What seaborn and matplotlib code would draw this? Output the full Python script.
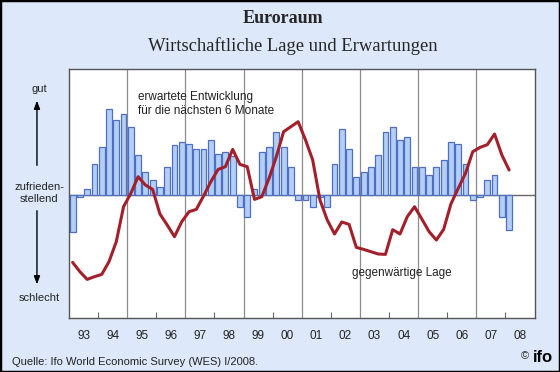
import numpy as np
import pandas as pd
import seaborn as sns
import matplotlib.pyplot as plt
from matplotlib.patches import Rectangle

# Quartale 1993Q1 bis 2008Q1
quartale = [f"{j}Q{q}" for j in range(1993, 2009) for q in range(1, 5)][:61]

# erwartete Entwicklung fuer die naechsten 6 Monate (Balken)
erwartung = [-37.7, -2.3, 5.3, 30.3,
             47.3, 85.3, 74.7, 80.3,
             67.3, 40.0, 23.0, 14.7,
             7.3, 27.3, 50.0, 52.7,
             50.3, 45.3, 45.3, 54.7,
             40.3, 42.3, 38.7, -12.3,
             -22.3, 5.3, 42.3, 47.3,
             62.3, 47.3, 27.3, -5.3,
             -5.3, -12.7, -2.7, -12.7,
             30.3, 65.3, 45.3, 18.0,
             23.0, 27.3, 40.0, 62.3,
             67.3, 54.7, 58.0, 27.3,
             27.3, 20.0, 27.3, 35.0,
             52.7, 50.3, 30.3, -5.3,
             -2.7, 14.7, 20.0, -22.7,
             -35.0]

# gegenwaertige Lage (Linie)
lage = [-67.7, -77.0, -84.7, -82.0,
        -79.7, -67.0, -47.0, -12.0,
        1.3, 18.0, 9.7, 5.3,
        -19.3, -30.3, -42.0, -27.0,
        -17.0, -14.7, -1.3, 13.0,
        25.3, 28.0, 45.3, 30.3,
        28.0, -4.7, -2.0, 16.3,
        38.0, 63.0, 68.0, 73.0,
        55.0, 34.7, -5.3, -25.3,
        -39.3, -27.3, -29.7, -52.7,
        -54.7, -57.0, -59.3, -59.7,
        -35.0, -39.3, -22.0, -12.0,
        -24.3, -37.0, -45.3, -34.7,
        -9.3, 6.3, 21.3, 43.0,
        47.3, 50.0, 60.7, 39.7,
        24.7]

jahre = ["93", "94", "95", "96", "97", "98", "99", "00",
         "01", "02", "03", "04", "05", "06", "07", "08"]

df = pd.DataFrame({"quartal": quartale, "erwartung": erwartung, "lage": lage})
df["pos"] = range(len(df))

sns.set_theme(style="white")
plt.rcParams['font.family'] = ['Liberation Sans', 'DejaVu Sans']

bg = "#dde9fa"
fig = plt.figure(figsize=(5.6, 3.72), dpi=100, facecolor=bg)
ax = fig.add_axes([0.1232, 0.1452, 0.8314, 0.6693])
ax.set_facecolor("white")

# Gitterlinien an ungeraden Jahren
for k in range(2, 16, 2):
    ax.axvline(4 * k - 0.5, color="#8c8c8c", lw=0.9, zorder=0)
ax.axhline(0, color="#666666", lw=1.0, zorder=1)

sns.barplot(data=df, x="pos", y="erwartung", native_scale=True, width=0.8,
            color="#b4cff6", edgecolor="#4f6fc4", linewidth=0.9,
            saturation=1, errorbar=None, ax=ax, zorder=2)
sns.lineplot(data=df, x="pos", y="lage", color="#a3202b", linewidth=2.2,
             ax=ax, zorder=3)

ax.set_xlim(-0.5, 63.5)
ax.set_ylim(-123.3, 125.7)
ax.set_xlabel("")
ax.set_ylabel("")
ax.set_yticks([])

# kleine Striche an geraden Jahren, Jahreszahlen in der Mitte
ax.set_xticks([4 * k - 0.5 for k in range(1, 16, 2)])
ax.set_xticklabels([])
ax.tick_params(axis="x", which="major", direction="in", length=4,
               color="#666666", width=0.8, bottom=True)
ax.set_xticks([4 * k + 1.5 for k in range(16)], minor=True)
ax.set_xticklabels(jahre, minor=True)
ax.tick_params(axis="x", which="minor", length=0, pad=8.5, labelsize=8.5,
               labelcolor="#222222")

for s in ax.spines.values():
    s.set_color("#555555")
    s.set_linewidth(1.0)

# Beschriftungen
fig.text(0.505, 0.949, "Euroraum", ha="center", va="center", fontsize=13,
         fontweight="bold", family="Liberation Serif")
fig.text(0.523, 0.876, "Wirtschaftliche Lage und Erwartungen", ha="center",
         va="center", fontsize=13.4, family="Liberation Serif")

fig.text(0.246, 0.720, "erwartete Entwicklung\nfür die nächsten 6 Monate",
         ha="left", va="center", fontsize=8.5, color="#222222", linespacing=1.2)
fig.text(0.718, 0.267, "gegenwärtige Lage", ha="center", va="center",
         fontsize=8.5, color="#222222")

fig.text(0.07, 0.761, "gut", ha="center", va="center", fontsize=8, color="#222222")
fig.text(0.07, 0.481, "zufrieden-\nstellend", ha="center", va="center",
         fontsize=8, color="#222222", linespacing=1.3)
fig.text(0.07, 0.199, "schlecht", ha="center", va="center", fontsize=8,
         color="#222222")
arrow = dict(arrowstyle="-|>,head_length=0.4,head_width=0.15", color="black", lw=1)
fig.add_artist(plt.Annotation("", xy=(0.066, 0.737), xytext=(0.066, 0.548),
                              xycoords="figure fraction", arrowprops=arrow))
fig.add_artist(plt.Annotation("", xy=(0.066, 0.228), xytext=(0.066, 0.441),
                              xycoords="figure fraction", arrowprops=arrow))

fig.text(0.021, 0.027, "Quelle: Ifo World Economic Survey (WES) I/2008.",
         ha="left", va="center", fontsize=8, color="#222222")
fig.text(0.937, 0.042, "©", ha="center", va="center", fontsize=8)
fig.text(0.97, 0.04, "ifo", ha="center", va="center", fontsize=12,
         fontweight="bold", color="black")

fig.add_artist(Rectangle((0, 0), 1, 1, transform=fig.transFigure, fill=False,
                         edgecolor="black", linewidth=2.5))

fig.savefig("out.png", dpi=100, facecolor=bg)
